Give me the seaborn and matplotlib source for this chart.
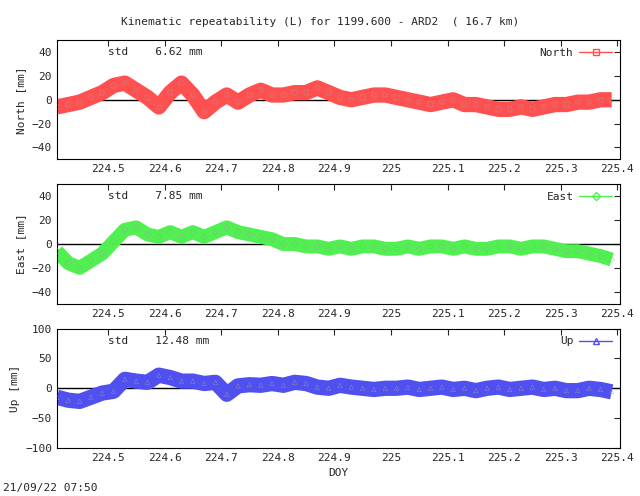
import numpy as np
import pandas as pd
import matplotlib
matplotlib.use('Agg')
import matplotlib.pyplot as plt
from matplotlib.lines import Line2D
import seaborn as sns

doy = [224.41, 224.43, 224.45, 224.47, 224.49, 224.51, 224.53, 224.55, 224.57, 224.59,
       224.61, 224.63, 224.65, 224.67, 224.69, 224.71, 224.73, 224.75, 224.77, 224.79,
       224.81, 224.83, 224.85, 224.87, 224.89, 224.91, 224.93, 224.95, 224.97, 224.99,
       225.01, 225.03, 225.05, 225.07, 225.09, 225.11, 225.13, 225.15, 225.17, 225.19,
       225.21, 225.23, 225.25, 225.27, 225.29, 225.31, 225.33, 225.35, 225.37, 225.39]
north = [-6, -4, -2, 2, 6, 12, 14, 8, 2, -6, 6, 14, 4, -10, -2, 4, -2, 4, 8, 4,
         4, 6, 6, 10, 6, 2, 0, 2, 4, 4, 2, 0, -2, -4, -2, 0, -4, -4, -6, -8,
         -8, -6, -8, -6, -4, -4, -2, -2, 0, 0]
east = [-6, -16, -20, -14, -8, 2, 12, 14, 8, 6, 10, 6, 10, 6, 10, 14, 10, 8, 6, 4,
        0, 0, -2, -2, -4, -2, -4, -2, -2, -4, -4, -2, -4, -2, -2, -4, -2, -4, -4, -2,
        -2, -4, -2, -2, -4, -6, -6, -8, -10, -13]
up = [-15, -20, -22, -15, -8, -5, 15, 12, 10, 22, 18, 12, 12, 8, 10, -10, 4, 6, 5, 8,
      5, 10, 8, 2, 0, 5, 2, 0, -2, 0, 0, 2, -2, 0, 2, -2, 0, -4, 0, 2,
      -2, 0, 2, -2, 0, -4, -4, 0, -2, -6]

components = ['North', 'East', 'Up']
values = [north, east, up]
stds = ['6.62', '7.85', '12.48']
colors = ['#ff5050', '#50f050', '#5050f0']
markers = ['s', 'D', '^']
bandwidth = [11, 10, 11]
ylims = [(-50, 50), (-50, 50), (-100, 100)]
yticks = [[-40, -20, 0, 20, 40], [-40, -20, 0, 20, 40], [-100, -50, 0, 50, 100]]

sns.set_style('white')
plt.rcParams['font.family'] = 'DejaVu Sans Mono'
plt.rcParams['font.size'] = 8

fig, axes = plt.subplots(3, 1, figsize=(6.4, 4.96), dpi=100)
fig.subplots_adjust(left=0.089, right=0.969, top=0.919, bottom=0.097, hspace=0.21)

for i, ax in enumerate(axes):
    df = pd.DataFrame({'DOY': doy, 'val': values[i]})
    sns.lineplot(data=df, x='DOY', y='val', color=colors[i], lw=bandwidth[i],
                 ax=ax, zorder=2, solid_capstyle='butt')
    sns.scatterplot(data=df, x='DOY', y='val', marker=markers[i], s=10,
                    facecolor='none', edgecolor='#a0a0a0', ax=ax, zorder=3)
    ax.axhline(0, color='black', lw=1, zorder=1)
    ax.set_xlim(224.41, 225.405)
    ax.set_ylim(*ylims[i])
    ax.set_yticks(yticks[i])
    ax.set_xticks([224.5, 224.6, 224.7, 224.8, 224.9, 225, 225.1, 225.2, 225.3, 225.4])
    ax.set_xticklabels(['224.5', '224.6', '224.7', '224.8', '224.9', '225', '225.1', '225.2', '225.3', '225.4'])
    ax.tick_params(direction='in', top=True, right=True, length=4, labelsize=8)
    ax.set_ylabel(f'{components[i]} [mm]')
    ax.set_xlabel('DOY' if i == 2 else '')
    ax.text(0.09, 0.9, f'std    {stds[i]} mm', transform=ax.transAxes, va='center')
    handle = Line2D([0], [0], color=colors[i], marker=markers[i], markersize=4,
                    markerfacecolor='none', lw=1)
    ax.legend([handle], [components[i]], loc='upper right', frameon=False,
              markerfirst=False, handlelength=3, handletextpad=0.5, borderaxespad=0.3)
    for s in ax.spines.values():
        s.set_color('black')
        s.set_linewidth(0.8)

fig.suptitle('Kinematic repeatability (L) for 1199.600 - ARD2  ( 16.7 km)', fontsize=8, y=0.965)
fig.text(0.005, 0.01, '21/09/22 07:50', fontsize=8)
fig.savefig('out.png', dpi=100)
